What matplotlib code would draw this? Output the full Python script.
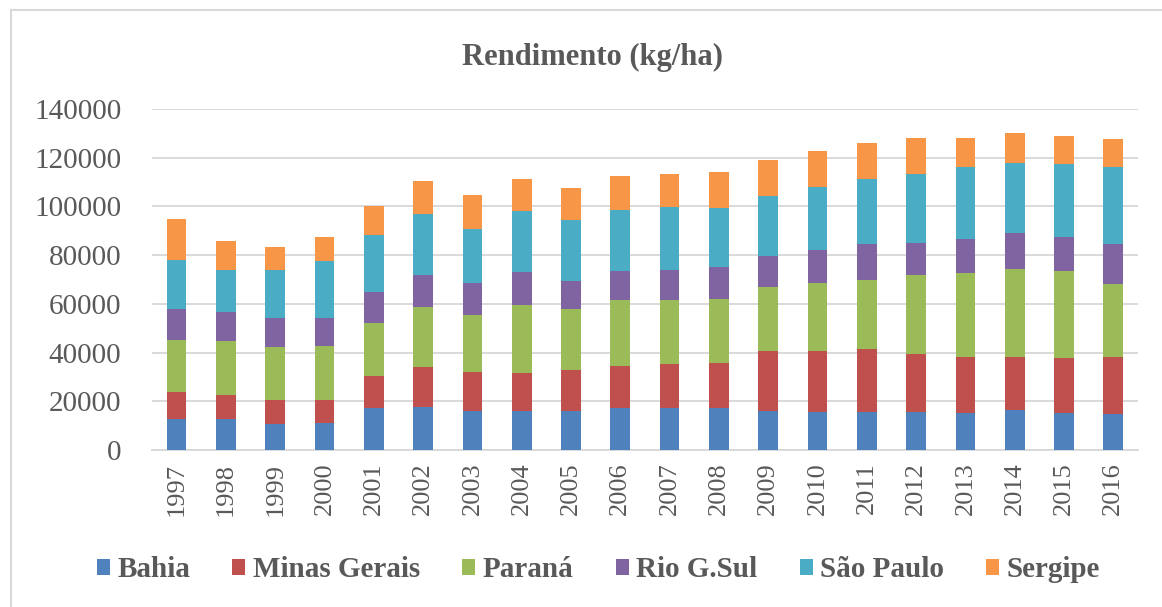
import matplotlib

matplotlib.use("Agg")
import matplotlib.pyplot as plt
from matplotlib.lines import Line2D
import numpy as np

years = [str(y) for y in range(1997, 2017)]
states = ["Bahia", "Minas Gerais", "Paraná", "Rio G.Sul", "São Paulo", "Sergipe"]

bahia = [12800, 12800, 10500, 11100, 17100, 17600, 15900, 16000, 16000, 17100,
         17100, 17100, 16100, 15800, 15800, 15800, 15400, 16500, 15400, 14700]
minas = [10900, 9600, 10100, 9500, 13100, 16300, 16100, 15700, 16800, 17400,
         18100, 18600, 24500, 24800, 25500, 23600, 22800, 21600, 22200, 23400]
parana = [21400, 22300, 21600, 22300, 22100, 25000, 23500, 27900, 25200, 26900,
          26400, 26500, 26400, 28100, 28700, 32300, 34400, 36100, 35900, 30200]
rio_sul = [12700, 11900, 11900, 11200, 12600, 13100, 12900, 13300, 11400, 12200,
           12500, 13000, 12500, 13300, 14400, 13400, 14200, 15000, 14000, 16100]
sao_paulo = [20300, 17200, 19700, 23400, 23400, 25100, 22300, 25200, 25000, 24900,
             25800, 24000, 24600, 25800, 27000, 28200, 29500, 28800, 30100, 31900]
sergipe = [16700, 12000, 9700, 10100, 11900, 13400, 13800, 13100, 13100, 13800,
           13600, 14900, 14900, 15100, 14500, 15000, 12000, 12200, 11300, 11400]

series = [bahia, minas, parana, rio_sul, sao_paulo, sergipe]
colors = ["#4F81BD", "#C0504D", "#9BBB59", "#8064A2", "#4BACC6", "#F79646"]
text_color = "#595959"

plt.rcParams["font.family"] = ["Liberation Serif", "DejaVu Serif"]

fig = plt.figure(figsize=(11.62, 6.07), dpi=100)
ax = fig.add_axes([0.1308, 0.2586, 0.8485, 0.5618])

x = np.arange(len(years))
bottom = np.zeros(len(years))
for name, values, color in zip(states, series, colors):
    ax.bar(x, values, width=0.4, bottom=bottom, color=color, label=name, zorder=3)
    bottom += np.array(values)

ax.set_xlim(-0.5, len(years) - 0.5)
ax.set_ylim(0, 140000)
ax.set_yticks(range(0, 140001, 20000))
ax.set_xticks(x)
ax.set_xticklabels(years, rotation=90)
ax.grid(axis="y", color="#D9D9D9", linewidth=1.4, zorder=0)
for side in ["top", "right", "left"]:
    ax.spines[side].set_visible(False)
ax.spines["bottom"].set_color("#D9D9D9")
ax.spines["bottom"].set_linewidth(1.4)
ax.tick_params(axis="y", length=0, pad=22, labelsize=21, labelcolor=text_color)
ax.tick_params(axis="x", length=0, pad=9, labelsize=19, labelcolor=text_color)

fig.text(0.51, 0.906, "Rendimento (kg/ha)", ha="center", va="center",
         fontsize=22, fontweight="bold", color=text_color)

fig.legend(loc="center", bbox_to_anchor=(0.515, 0.061), ncol=6, frameon=False,
           prop={"size": 21, "weight": "bold"}, labelcolor=text_color,
           handlelength=0.45, handleheight=0.45, handletextpad=0.25, columnspacing=1.45)

# chart frame (left and top edges)
fig.add_artist(Line2D([11 / 1162, 11 / 1162], [0, 1 - 10 / 607], color="#D9D9D9", lw=1.5))
fig.add_artist(Line2D([11 / 1162, 1], [1 - 10 / 607, 1 - 10 / 607], color="#D9D9D9", lw=1.5))

fig.savefig("out.png", dpi=100)
